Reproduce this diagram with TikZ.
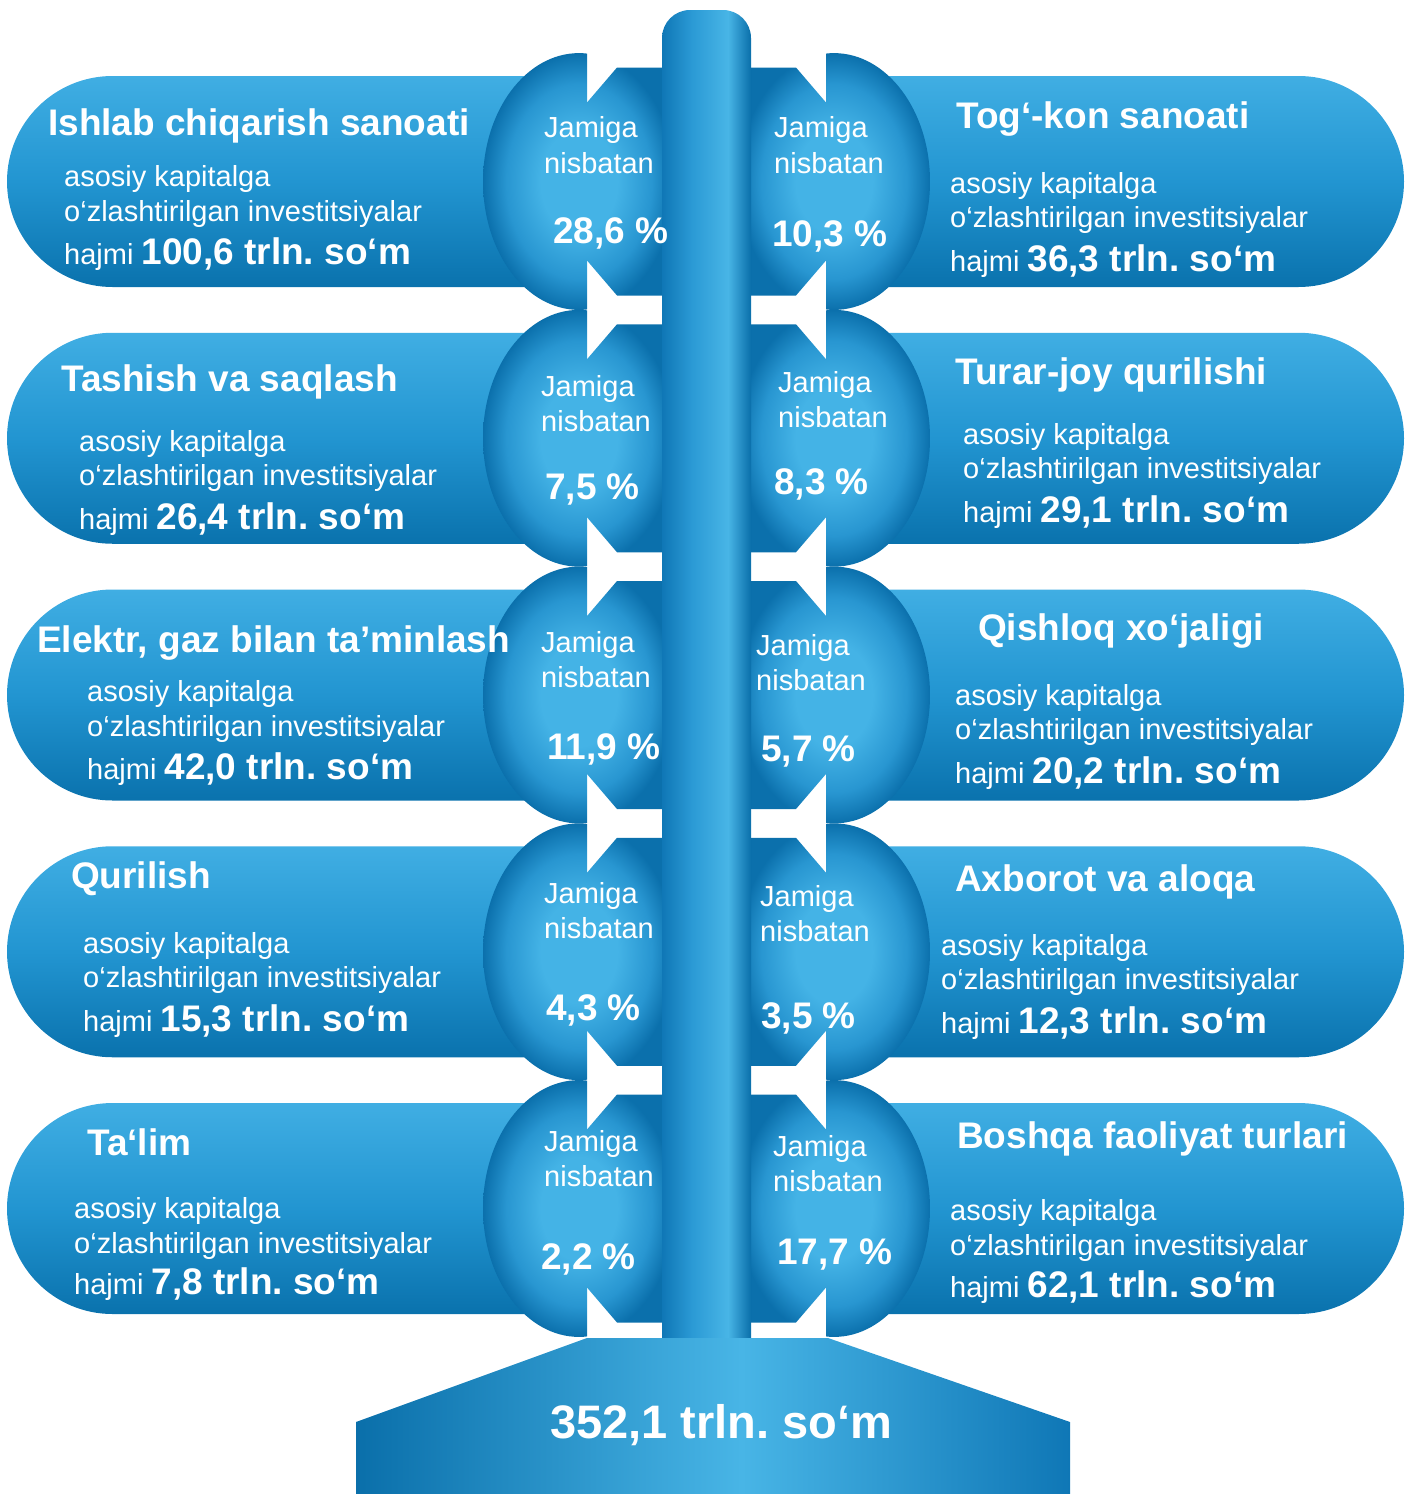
\documentclass[tikz,border=0pt]{standalone}
\usepackage{fontspec}
\setmainfont{Liberation Sans}
\frenchspacing
\definecolor{pbot}{HTML}{0A72AD}
\definecolor{pmid}{HTML}{2295D1}
\definecolor{ptop}{HTML}{40AEE3}
\definecolor{bl}{HTML}{44B3E6}
\definecolor{bm}{HTML}{2896D1}
\definecolor{bd}{HTML}{0B70AC}
\definecolor{qd}{HTML}{0F77B6}
\definecolor{qm}{HTML}{2B9AD5}
\definecolor{ql}{HTML}{48B5E6}
\definecolor{qr}{HTML}{0A6FAA}
\pgfdeclareverticalshading{pillsh}{100bp}{color(0bp)=(pbot); color(25bp)=(pbot); color(50bp)=(pmid); color(75bp)=(ptop); color(100bp)=(ptop)}
\pgfdeclareradialshading{ballsh}{\pgfpoint{0bp}{0bp}}{color(0bp)=(bl); color(10bp)=(bl); color(19bp)=(bm); color(25bp)=(bd); color(50bp)=(bd)}
\pgfdeclarehorizontalshading{pipesh}{100bp}{color(0bp)=(qd); color(25bp)=(qd); color(42bp)=(qm); color(62bp)=(ql); color(75bp)=(qr); color(100bp)=(qr)}
\pgfdeclarehorizontalshading{basesh}{100bp}{color(0bp)=(qr); color(25bp)=(qr); color(52bp)=(ql); color(75bp)=(qd); color(100bp)=(qd)}
\tikzset{
  ttl/.style={anchor=base west, text=white, inner sep=0pt, font=\fontsize{37}{44}\selectfont\bfseries},
  bod/.style={anchor=base west, text=white, inner sep=0pt, font=\fontsize{29}{35}\selectfont},
  pct/.style={anchor=base west, text=white, inner sep=0pt, font=\fontsize{37}{44}\selectfont\bfseries},
  tot/.style={anchor=base west, text=white, inner sep=0pt, font=\fontsize{47}{56}\selectfont\bfseries},
}
\newcommand\bignum[1]{{\fontsize{37}{44}\selectfont\bfseries #1}}
\begin{document}
\begin{tikzpicture}[x=1pt,y=-1pt]
\useasboundingbox (0,0) rectangle (1408,1494);
% pills
\foreach \Y in {181.5,438.25,695,951.75,1208.5}{
  \shade[shading=pillsh] (560,\Y-105.5) -- (112.5,\Y-105.5) arc[start angle=270,end angle=90,radius=105.5] -- (560,\Y+105.5) -- cycle;
  \shade[shading=pillsh] (853,\Y-105.5) -- (1298.5,\Y-105.5) arc[start angle=-90,end angle=90,radius=105.5] -- (853,\Y+105.5) -- cycle;
}
% balls and necks
\foreach \Y in {181.5,438.25,695,951.75,1208.5}{
  \begin{scope}
    \clip (470,\Y-130) rectangle (587,\Y+130);
    \clip (579,\Y) ellipse [x radius=96, y radius=128.4];
    \shade[shading=ballsh] (483,\Y-128.4) rectangle (675,\Y+128.4);
  \end{scope}
  \begin{scope}
    \clip (587,\Y-79) -- (617,\Y-114) -- (663,\Y-114) -- (663,\Y+114) -- (617,\Y+114) -- (587,\Y+79) -- cycle;
    \shade[shading=ballsh] (483,\Y-128.4) rectangle (675,\Y+128.4);
  \end{scope}
  \begin{scope}
    \clip (826,\Y-130) rectangle (940,\Y+130);
    \clip (834,\Y) ellipse [x radius=96, y radius=128.4];
    \shade[shading=ballsh] (738,\Y-128.4) rectangle (930,\Y+128.4);
  \end{scope}
  \begin{scope}
    \clip (826,\Y-79) -- (796,\Y-114) -- (750,\Y-114) -- (750,\Y+114) -- (796,\Y+114) -- (826,\Y+79) -- cycle;
    \shade[shading=ballsh] (738,\Y-128.4) rectangle (930,\Y+128.4);
  \end{scope}
}
% pipe
\shade[shading=pipesh, rounded corners=28] (662,1345) -- (662,10) -- (751,10) -- (751,1345);
% base
\shade[shading=basesh] (587,1338) -- (828,1338) -- (1070,1422) -- (1070,1494) -- (356,1494) -- (356,1422) -- cycle;

% left texts
\node[ttl] (l1t) at (48,135) {Ishlab chiqarish sanoati};
\node[bod] (l1a) at (64,186) {asosiy kapitalga};
\node[bod] (l1b) at (64,221) {o‘zlashtirilgan investitsiyalar};
\node[bod] (l1c) at (64,264) {hajmi \bignum{100,6 trln. so‘m}};

\node[ttl] (l2t) at (61,391) {Tashish va saqlash};
\node[bod] (l2a) at (79,451) {asosiy kapitalga};
\node[bod] (l2b) at (79,485) {o‘zlashtirilgan investitsiyalar};
\node[bod] (l2c) at (79,529) {hajmi \bignum{26,4 trln. so‘m}};

\node[ttl] (l3t) at (37,652) {Elektr, gaz bilan ta’minlash};
\node[bod] (l3a) at (87,701) {asosiy kapitalga};
\node[bod] (l3b) at (87,736) {o‘zlashtirilgan investitsiyalar};
\node[bod] (l3c) at (87,779) {hajmi \bignum{42,0 trln. so‘m}};

\node[ttl] (l4t) at (71,888) {Qurilish};
\node[bod] (l4a) at (83,953) {asosiy kapitalga};
\node[bod] (l4b) at (83,987) {o‘zlashtirilgan investitsiyalar};
\node[bod] (l4c) at (83,1031) {hajmi \bignum{15,3 trln. so‘m}};

\node[ttl] (l5t) at (87,1155) {Ta‘lim};
\node[bod] (l5a) at (74,1218) {asosiy kapitalga};
\node[bod] (l5b) at (74,1253) {o‘zlashtirilgan investitsiyalar};
\node[bod] (l5c) at (74,1294) {hajmi \bignum{7,8 trln. so‘m}};

% right texts
\node[ttl] (r1t) at (956,128) {Tog‘-kon sanoati};
\node[bod] (r1a) at (950,193) {asosiy kapitalga};
\node[bod] (r1b) at (950,227) {o‘zlashtirilgan investitsiyalar};
\node[bod] (r1c) at (950,271) {hajmi \bignum{36,3 trln. so‘m}};

\node[ttl] (r2t) at (955,384) {Turar-joy qurilishi};
\node[bod] (r2a) at (963,444) {asosiy kapitalga};
\node[bod] (r2b) at (963,478) {o‘zlashtirilgan investitsiyalar};
\node[bod] (r2c) at (963,522) {hajmi \bignum{29,1 trln. so‘m}};

\node[ttl] (r3t) at (978,640) {Qishloq xo‘jaligi};
\node[bod] (r3a) at (955,705) {asosiy kapitalga};
\node[bod] (r3b) at (955,739) {o‘zlashtirilgan investitsiyalar};
\node[bod] (r3c) at (955,783) {hajmi \bignum{20,2 trln. so‘m}};

\node[ttl] (r4t) at (955,891) {Axborot va aloqa};
\node[bod] (r4a) at (941,955) {asosiy kapitalga};
\node[bod] (r4b) at (941,989) {o‘zlashtirilgan investitsiyalar};
\node[bod] (r4c) at (941,1033) {hajmi \bignum{12,3 trln. so‘m}};

\node[ttl] (r5t) at (957,1148) {Boshqa faoliyat turlari};
\node[bod] (r5a) at (950,1220) {asosiy kapitalga};
\node[bod] (r5b) at (950,1255) {o‘zlashtirilgan investitsiyalar};
\node[bod] (r5c) at (950,1297) {hajmi \bignum{62,1 trln. so‘m}};

% circle texts left
\node[bod] (l1j) at (544,137) {Jamiga};
\node[bod] (l1n) at (544,173) {nisbatan};
\node[pct] (l1p) at (553,243) {28,6 \%};
\node[bod] (l2j) at (541,396) {Jamiga};
\node[bod] (l2n) at (541,431) {nisbatan};
\node[pct] (l2p) at (545,499) {7,5 \%};
\node[bod] (l3j) at (541,652) {Jamiga};
\node[bod] (l3n) at (541,687) {nisbatan};
\node[pct] (l3p) at (547,759) {11,9 \%};
\node[bod] (l4j) at (544,903) {Jamiga};
\node[bod] (l4n) at (544,938) {nisbatan};
\node[pct] (l4p) at (546,1020) {4,3 \%};
\node[bod] (l5j) at (544,1151) {Jamiga};
\node[bod] (l5n) at (544,1186) {nisbatan};
\node[pct] (l5p) at (541,1269) {2,2 \%};
% circle texts right
\node[bod] (r1j) at (774,137) {Jamiga};
\node[bod] (r1n) at (774,173) {nisbatan};
\node[pct] (r1p) at (772,246) {10,3 \%};
\node[bod] (r2j) at (778,392) {Jamiga};
\node[bod] (r2n) at (778,427) {nisbatan};
\node[pct] (r2p) at (774,494) {8,3 \%};
\node[bod] (r3j) at (756,655) {Jamiga};
\node[bod] (r3n) at (756,690) {nisbatan};
\node[pct] (r3p) at (761,761) {5,7 \%};
\node[bod] (r4j) at (760,906) {Jamiga};
\node[bod] (r4n) at (760,941) {nisbatan};
\node[pct] (r4p) at (761,1028) {3,5 \%};
\node[bod] (r5j) at (773,1156) {Jamiga};
\node[bod] (r5n) at (773,1191) {nisbatan};
\node[pct] (r5p) at (777,1264) {17,7 \%};

% total
\node[tot] (total) at (550,1438) {352,1 trln. so‘m};
\end{tikzpicture}
\end{document}
